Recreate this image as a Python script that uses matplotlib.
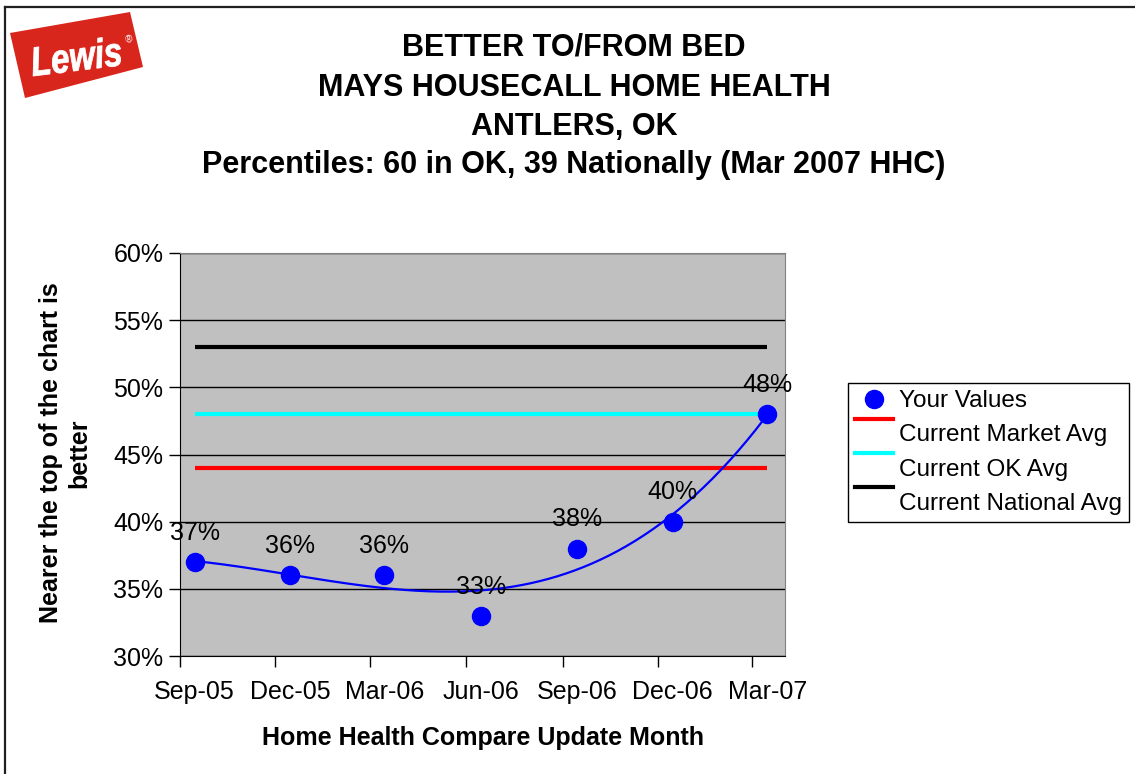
import datetime as dt
import numpy as np
import matplotlib
matplotlib.use("Agg")
import matplotlib.pyplot as plt
import matplotlib.dates as mdates
from matplotlib.ticker import MultipleLocator, FuncFormatter, NullFormatter
from matplotlib.legend_handler import HandlerLine2D
from matplotlib.lines import Line2D
from matplotlib.patches import Polygon, PathPatch
from matplotlib.textpath import TextPath
from matplotlib.font_manager import FontProperties
from matplotlib.transforms import Affine2D

plt.rcParams['font.family'] = ['Liberation Sans', 'DejaVu Sans']

# data
months = [dt.date(2005, 9, 15), dt.date(2005, 12, 15), dt.date(2006, 3, 15),
          dt.date(2006, 6, 15), dt.date(2006, 9, 15), dt.date(2006, 12, 15),
          dt.date(2007, 3, 15)]
your_values = [37, 36, 36, 33, 38, 40, 48]
market_avg = 44
ok_avg = 48
national_avg = 53

titles = ["BETTER TO/FROM BED", "MAYS HOUSECALL HOME HEALTH", "ANTLERS, OK",
          "Percentiles: 60 in OK, 39 Nationally (Mar 2007 HHC)"]


class RaisedLine(HandlerLine2D):
    # Excel-style legend: line sits above its label
    def create_artists(self, legend, orig_handle, xdescent, ydescent,
                       width, height, fontsize, trans):
        arts = super().create_artists(legend, orig_handle, xdescent, ydescent,
                                      width, height, fontsize, trans)
        for a in arts:
            a.set_ydata(np.asarray(a.get_ydata()) + 10)
        return arts


W, H = 1135, 774
fig = plt.figure(figsize=(W / 100, H / 100), dpi=100)
ax = fig.add_axes([180 / W, 1 - 656 / H, (785 - 180) / W, (656 - 253) / H])
ax.set_facecolor('#C0C0C0')

# average lines
ax.plot(months, [national_avg] * len(months), color='black', lw=3, solid_capstyle='butt', zorder=3)
ax.plot(months, [ok_avg] * len(months), color='cyan', lw=3, solid_capstyle='butt', zorder=3)
ax.plot(months, [market_avg] * len(months), color='red', lw=3, solid_capstyle='butt', zorder=3)

# polynomial trendline (order 3) through the values
xnum = mdates.date2num(months)
x0 = xnum.mean()
coef = np.polyfit(xnum - x0, your_values, 3)
xs = np.linspace(xnum[0], xnum[-1], 200)
ax.plot(mdates.num2date(xs), np.polyval(coef, xs - x0), color='blue', lw=1.6, zorder=4)

ax.plot(months, your_values, 'o', color='blue', markersize=13, zorder=5)
for d, v in zip(months, your_values):
    ax.annotate(f"{v}%", (d, v), xytext=(0, 21), textcoords='offset points',
                ha='center', va='center', fontsize=18, zorder=6)

ax.set_ylim(30, 60)
ax.yaxis.set_major_locator(MultipleLocator(5))
ax.yaxis.set_major_formatter(FuncFormatter(lambda v, p: f"{v:.0f}%"))
ax.grid(axis='y', color='black', lw=1)
ax.set_axisbelow(True)

ax.set_xlim(dt.date(2005, 9, 1), dt.date(2007, 4, 1))
ax.xaxis.set_major_locator(mdates.MonthLocator(bymonth=[3, 6, 9, 12], bymonthday=1))
ax.xaxis.set_major_formatter(NullFormatter())
ax.xaxis.set_minor_locator(mdates.MonthLocator(bymonth=[3, 6, 9, 12], bymonthday=15))
ax.xaxis.set_minor_formatter(mdates.DateFormatter('%b-%y'))
ax.tick_params(axis='x', which='major', direction='out', length=8, width=1)
ax.tick_params(axis='x', which='minor', length=0, pad=17, labelsize=18)
ax.tick_params(axis='y', direction='out', length=8, width=1, labelsize=18, pad=4)

for s in ['top', 'right']:
    ax.spines[s].set_color('#808080')
for s in ['left', 'bottom']:
    ax.spines[s].set_color('black')

ax.set_xlabel("Home Health Compare Update Month", fontsize=18, fontweight='bold', labelpad=16)
fig.text(65 / W, 1 - 453 / H, "Nearer the top of the chart is\nbetter", rotation=90,
         ha='center', va='center', multialignment='center', fontsize=18, fontweight='bold',
         linespacing=1.25)

for t, y in zip(titles, [48, 88, 127, 165]):
    fig.text(574 / W, 1 - y / H, t, ha='center', va='center', fontsize=22, fontweight='bold')

handles = [Line2D([], [], ls='none', marker='o', color='blue', markersize=13),
           Line2D([], [], color='red', lw=3),
           Line2D([], [], color='cyan', lw=3),
           Line2D([], [], color='black', lw=3)]
labels = ["Your Values", "Current Market Avg", "Current OK Avg", "Current National Avg"]
leg = fig.legend(handles, labels, loc='upper left', bbox_to_anchor=(848 / W, 1 - 383 / H),
                 fontsize=17.5, frameon=True, fancybox=False, edgecolor='black',
                 framealpha=1, borderpad=0.3, labelspacing=0.5, handlelength=1.55,
                 handletextpad=0.25, borderaxespad=0,
                 handler_map={h: RaisedLine() for h in handles[1:]})
leg.get_frame().set_linewidth(1)

# logo
pts = [(10, 33), (130, 12), (143, 67), (25, 98)]
fig.patches.append(Polygon([(x / W, 1 - y / H) for x, y in pts], closed=True,
                           transform=fig.transFigure, facecolor='#D9261C', edgecolor='none'))
tp = TextPath((0, 0), "Lewis", size=50,
              prop=FontProperties(family='Liberation Sans', weight='bold', style='italic'))
tb = tp.get_extents()
logo_tr = (Affine2D().translate(-(tb.x0 + tb.x1) / 2, -(tb.y0 + tb.y1) / 2)
           .scale(0.66, 0.82).rotate_deg(7).translate(76, H - 56))
fig.patches.append(PathPatch(tp, transform=logo_tr, facecolor='white', edgecolor='white', lw=0.6))
fig.text(129 / W, 1 - 40 / H, "®", rotation=8, ha='center', va='center', color='white', fontsize=7)

# outer border (only top and left edges visible)
fig.add_artist(Line2D([4.5 / W, 4.5 / W], [0, 1 - 6.5 / H], transform=fig.transFigure,
                      color='#202020', lw=1.6))
fig.add_artist(Line2D([4.5 / W, 1], [1 - 6.5 / H, 1 - 6.5 / H], transform=fig.transFigure,
                      color='#202020', lw=1.6))

fig.savefig('out.png', dpi=100)
